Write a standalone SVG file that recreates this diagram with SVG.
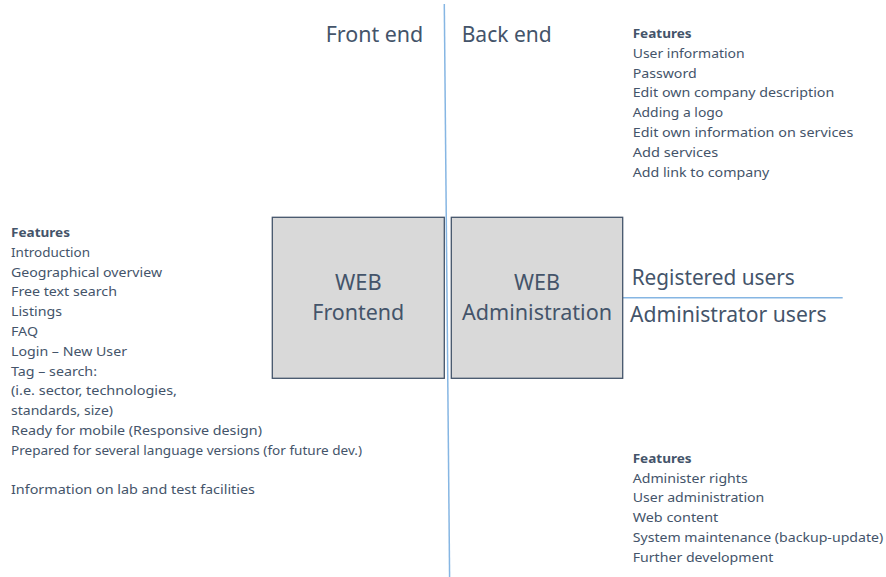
<svg xmlns="http://www.w3.org/2000/svg" width="886" height="577" viewBox="0 0 886 577">
  <style>
    text { font-family: "Noto Sans", "Open Sans", sans-serif; fill: #44546a; }
    .head { font-size: 22px; }
    .big { font-size: 21px; }
    .list { font-size: 12.5px; }
    .list .t { font-weight: bold; }
    .box { fill: #d9d9d9; stroke: #44546a; stroke-width: 1.3; }
    .divider { stroke: #86b6e3; stroke-width: 1.5; fill: none; }
  </style>

  <!-- Dividers between front end / back end and user groups -->
  <g id="connectors">
    <line class="divider" x1="444.3" y1="4" x2="449.6" y2="577"/>
    <line class="divider" x1="622.7" y1="297.7" x2="842.7" y2="297.7"/>
  </g>

  <!-- Column headings -->
  <g id="headings">
    <text class="head" x="325.7" y="41.7" textLength="97.6" lengthAdjust="spacingAndGlyphs">Front end</text>
    <text class="head" x="461.7" y="41.7" textLength="90" lengthAdjust="spacingAndGlyphs">Back end</text>
  </g>

  <!-- Front end node -->
  <g id="web-frontend">
    <rect class="box" x="272.3" y="217.3" width="172" height="161"/>
    <text class="big" x="358.3" y="290" text-anchor="middle" textLength="46.7" lengthAdjust="spacingAndGlyphs">WEB</text>
    <text class="big" x="358.3" y="320" text-anchor="middle" textLength="92" lengthAdjust="spacingAndGlyphs">Frontend</text>
  </g>

  <!-- Back end node -->
  <g id="web-administration">
    <rect class="box" x="451.3" y="217.3" width="171.4" height="161"/>
    <text class="big" x="537" y="290" text-anchor="middle" textLength="46" lengthAdjust="spacingAndGlyphs">WEB</text>
    <text class="big" x="537" y="320" text-anchor="middle" textLength="150" lengthAdjust="spacingAndGlyphs">Administration</text>
  </g>

  <!-- User groups -->
  <g id="user-groups">
    <text class="big" x="631.7" y="285" textLength="163" lengthAdjust="spacingAndGlyphs">Registered users</text>
    <text class="big" x="630" y="321.7" textLength="196.7" lengthAdjust="spacingAndGlyphs">Administrator users</text>
  </g>

  <!-- Front end feature list -->
  <g id="frontend-features" class="list">
    <text class="t" x="11" y="237" textLength="59" lengthAdjust="spacingAndGlyphs">Features</text>
    <text x="11" y="256.8" textLength="79" lengthAdjust="spacingAndGlyphs">Introduction</text>
    <text x="11" y="276.6" textLength="151" lengthAdjust="spacingAndGlyphs">Geographical overview</text>
    <text x="11" y="296.4" textLength="106" lengthAdjust="spacingAndGlyphs">Free text search</text>
    <text x="11" y="316.2" textLength="51" lengthAdjust="spacingAndGlyphs">Listings</text>
    <text x="11" y="336" textLength="27" lengthAdjust="spacingAndGlyphs">FAQ</text>
    <text x="11" y="355.8" textLength="116" lengthAdjust="spacingAndGlyphs">Login – New User</text>
    <text x="11" y="375.6" textLength="86" lengthAdjust="spacingAndGlyphs">Tag – search:</text>
    <text x="11" y="395.4" textLength="166" lengthAdjust="spacingAndGlyphs">(i.e. sector, technologies,</text>
    <text x="11" y="415.2" textLength="102" lengthAdjust="spacingAndGlyphs">standards, size)</text>
    <text x="11" y="435" textLength="251" lengthAdjust="spacingAndGlyphs">Ready for mobile (Responsive design)</text>
    <text x="11" y="454.8" textLength="351" lengthAdjust="spacingAndGlyphs">Prepared for several language versions (for future dev.)</text>
    <text x="11" y="494.4" textLength="244" lengthAdjust="spacingAndGlyphs">Information on lab and test facilities</text>
  </g>

  <!-- Registered user feature list -->
  <g id="registered-features" class="list">
    <text class="t" x="632.7" y="38" textLength="59" lengthAdjust="spacingAndGlyphs">Features</text>
    <text x="632.7" y="57.8" textLength="112" lengthAdjust="spacingAndGlyphs">User information</text>
    <text x="632.7" y="77.6" textLength="64" lengthAdjust="spacingAndGlyphs">Password</text>
    <text x="632.7" y="97.4" textLength="201.6" lengthAdjust="spacingAndGlyphs">Edit own company description</text>
    <text x="632.7" y="117.2" textLength="90.6" lengthAdjust="spacingAndGlyphs">Adding a logo</text>
    <text x="632.7" y="137" textLength="220.6" lengthAdjust="spacingAndGlyphs">Edit own information on services</text>
    <text x="632.7" y="156.8" textLength="85.6" lengthAdjust="spacingAndGlyphs">Add services</text>
    <text x="632.7" y="176.6" textLength="136.6" lengthAdjust="spacingAndGlyphs">Add link to company</text>
  </g>

  <!-- Administrator feature list -->
  <g id="administrator-features" class="list">
    <text class="t" x="632.7" y="462.7" textLength="59" lengthAdjust="spacingAndGlyphs">Features</text>
    <text x="632.7" y="482.5" textLength="115" lengthAdjust="spacingAndGlyphs">Administer rights</text>
    <text x="632.7" y="502.3" textLength="131.6" lengthAdjust="spacingAndGlyphs">User administration</text>
    <text x="632.7" y="522.1" textLength="85.6" lengthAdjust="spacingAndGlyphs">Web content</text>
    <text x="632.7" y="541.9" textLength="250.6" lengthAdjust="spacingAndGlyphs">System maintenance (backup-update)</text>
    <text x="632.7" y="561.7" textLength="140.6" lengthAdjust="spacingAndGlyphs">Further development</text>
  </g>
</svg>
